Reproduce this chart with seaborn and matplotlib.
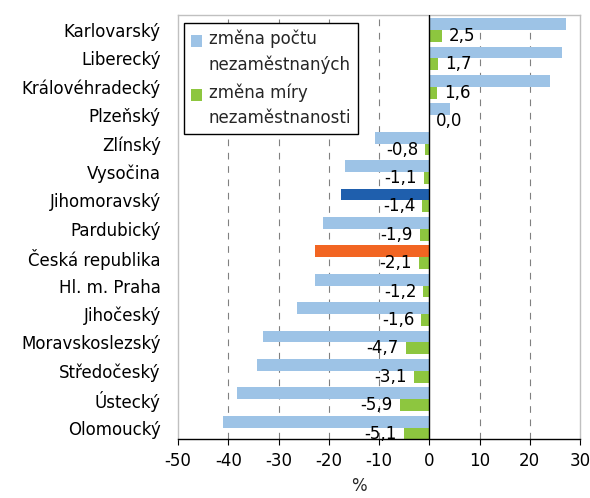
import matplotlib
matplotlib.use("Agg")
import matplotlib.pyplot as plt
from matplotlib.patches import Patch, Rectangle
from matplotlib.legend_handler import HandlerPatch
import seaborn as sns
import pandas as pd

regions = ["Karlovarský", "Liberecký", "Královéhradecký", "Plzeňský", "Zlínský",
           "Vysočina", "Jihomoravský", "Pardubický", "Česká republika", "Hl. m. Praha",
           "Jihočeský", "Moravskoslezský", "Středočeský", "Ústecký", "Olomoucký"]
zmena_poctu = [27.3, 26.5, 24.1, 4.2, -10.8, -16.7, -17.6, -21.2, -22.8, -22.8,
               -26.4, -33.1, -34.3, -38.2, -41.0]
zmena_miry = [2.5, 1.7, 1.6, 0.0, -0.8, -1.1, -1.4, -1.9, -2.1, -1.2,
              -1.6, -4.7, -3.1, -5.9, -5.1]
series_names = ["změna počtu\nnezaměstnaných", "změna míry\nnezaměstnanosti"]
x_ticks = [-50, -40, -30, -20, -10, 0, 10, 20, 30]

BLUE = "#9DC3E6"
GREEN = "#8DC63F"
DARK_BLUE = "#1F5FAD"
ORANGE = "#F26522"

sns.set_theme(style="white")
plt.rcParams["font.family"] = ["DejaVu Sans"]
FS = 12

df = pd.DataFrame({
    "region": regions * 2,
    "series": [series_names[0]] * len(regions) + [series_names[1]] * len(regions),
    "value": zmena_poctu + zmena_miry,
})

fig = plt.figure(figsize=(5.9, 4.98), dpi=100)
ax = fig.add_axes([178 / 590, 1 - 439 / 498, 402 / 590, 424 / 498])

sns.barplot(data=df, y="region", x="value", hue="series", hue_order=series_names,
            order=regions, palette=[BLUE, GREEN], width=0.83, orient="h",
            saturation=1, errorbar=None, legend=False, ax=ax, zorder=2,
            linewidth=0)

# highlight bars
ax.containers[0][regions.index("Jihomoravský")].set_facecolor(DARK_BLUE)
ax.containers[0][regions.index("Česká republika")].set_facecolor(ORANGE)

# data labels for green series
for patch, v in zip(ax.containers[1], zmena_miry):
    yc = patch.get_y() + patch.get_height() / 2
    txt = f"{v:.1f}".replace(".", ",")
    if v >= 0:
        ax.annotate(txt, (v, yc), xytext=(5, 0), textcoords="offset points",
                    ha="left", va="center", fontsize=FS, color="black", zorder=5)
    else:
        ax.annotate(txt, (v, yc), xytext=(-5, 0), textcoords="offset points",
                    ha="right", va="center", fontsize=FS, color="black", zorder=5)

ax.set_xlim(-50, 30)
ax.set_ylim(14.40, -0.53)
ax.set_xticks(x_ticks)
ax.set_xticklabels([str(t) for t in x_ticks], fontsize=FS)

# gridlines
for t in x_ticks:
    if t not in (-50, 0, 30):
        ax.axvline(t, color="#808080", lw=0.8, ls=(0, (6, 6)), zorder=0)
ax.axvline(0, color="black", lw=1, zorder=4)

ax.set_ylabel("")
ax.set_xlabel("%", fontsize=FS)
ax.xaxis.set_label_coords(0.45, -0.112)
ax.xaxis.label.set_va("center")

ax.tick_params(axis="x", direction="out", length=4.3, width=0.8, color="black",
               pad=5, labelsize=FS, bottom=True)
ax.tick_params(axis="y", length=0, pad=12.5, labelsize=FS)
for lab in ax.get_yticklabels():
    lab.set_color("black")
for lab in ax.get_xticklabels():
    lab.set_color("black")

for s in ("top", "right", "left"):
    ax.spines[s].set_color("#C0C0C0")
    ax.spines[s].set_linewidth(1)
ax.spines["bottom"].set_color("black")
ax.spines["bottom"].set_linewidth(1)


def top_square(legend, orig_handle, xdescent, ydescent, width, height, fontsize):
    # square aligned with the first line of a two-line label
    return Rectangle((-xdescent, -ydescent + 8.5), width, height)


handles = [Patch(facecolor=BLUE, edgecolor="none"), Patch(facecolor=GREEN, edgecolor="none")]
leg = ax.legend(handles, series_names, loc="upper left",
                bbox_to_anchor=((184 - 178) / 402, (439 - 23) / 424),
                borderaxespad=0, fontsize=FS, frameon=True, fancybox=False,
                handlelength=0.7, handleheight=0.7, handletextpad=0.4,
                labelspacing=0.6, borderpad=0.4,
                handler_map={Patch: HandlerPatch(patch_func=top_square)})
leg.get_frame().set_edgecolor("black")
leg.get_frame().set_linewidth(1)
leg.get_frame().set_alpha(1)
for t in leg.get_texts():
    t.set_linespacing(1.5)
leg.set_zorder(6)

fig.savefig("out.png", dpi=100)
